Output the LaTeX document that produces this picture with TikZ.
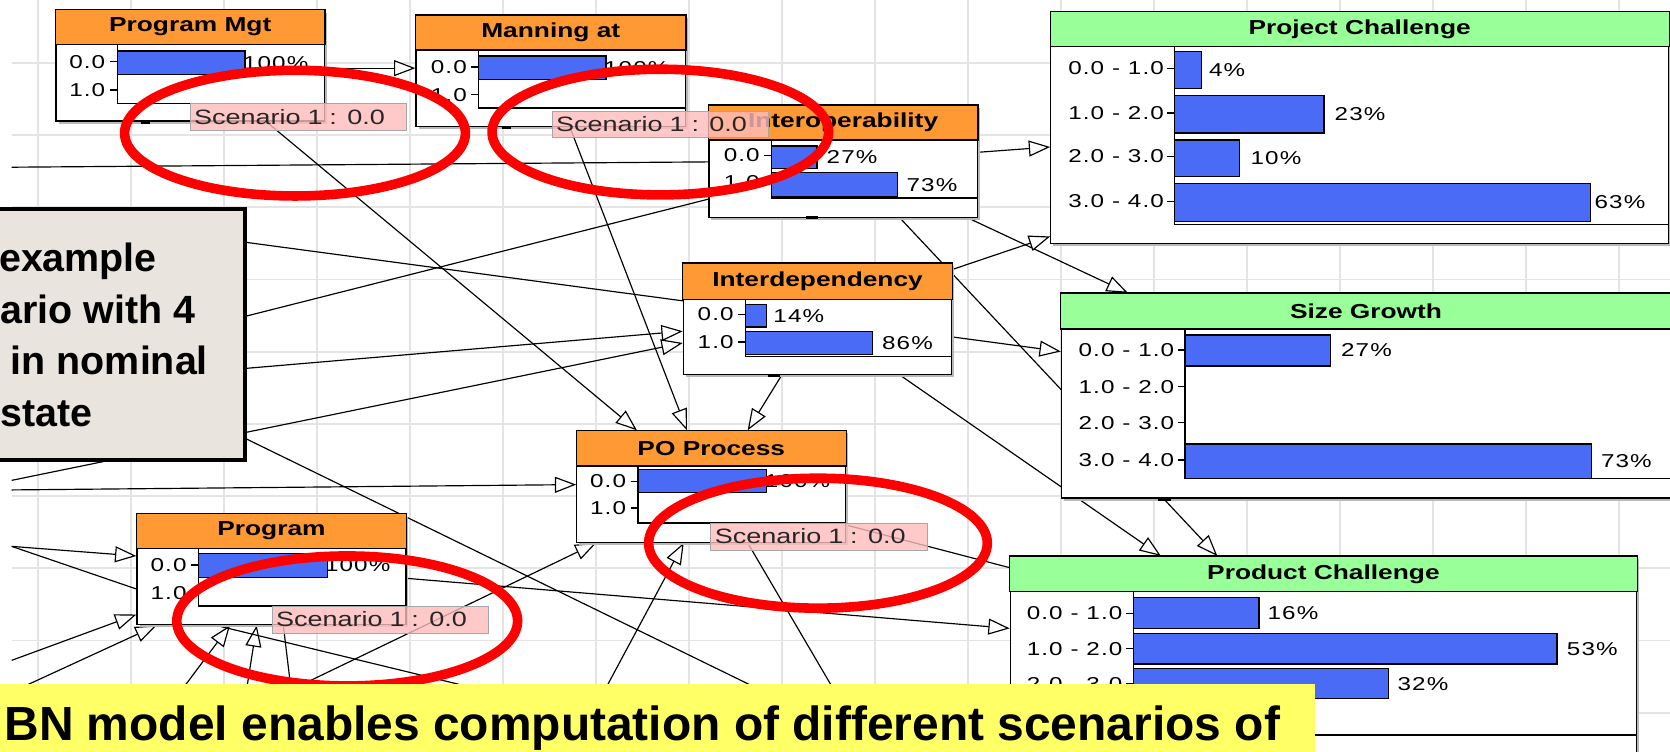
\documentclass[tikz,border=0pt]{standalone}
\usepackage{fontspec}
\setmainfont{Liberation Sans}
\newfontfamily\bnfont[FakeStretch=1.3]{Liberation Sans}
\newfontfamily\bnnum[FakeStretch=1.3,LetterSpace=6]{Liberation Sans}
\usetikzlibrary{arrows.meta}
\pgfdeclarelayer{gridl}
\pgfdeclarelayer{edges}
\pgfsetlayers{gridl,edges,main}
\definecolor{hdrorange}{RGB}{255,153,51}
\definecolor{hdrgreen}{RGB}{153,255,153}
\definecolor{barblue}{RGB}{74,107,245}
\definecolor{gridgrey}{RGB}{228,228,228}
\definecolor{scenpink}{RGB}{255,188,188}
\definecolor{notegrey}{RGB}{234,228,223}
\definecolor{noteyellow}{RGB}{255,255,102}
\tikzset{
  bnbox/.style={draw, fill=white, line width=1.2pt, inner sep=0pt, anchor=north west},
  bntitle/.style={font=\bnfont\bfseries\fontsize{19}{22}\selectfont, inner sep=0pt},
  state/.style={font=\bnnum\fontsize{17.5}{20}\selectfont, inner sep=0pt, anchor=east},
  pct/.style={font=\bnnum\fontsize{17.5}{20}\selectfont, inner sep=0pt, anchor=west},
  bar/.style={draw, fill=barblue, line width=1.2pt},
  frame/.style={line width=1.2pt},
  plain/.style={line width=1.1pt},
  edge/.style={plain, -{Triangle[length=20pt,width=15pt,fill=white]}},
  scen/.style={draw=black!35, fill=scenpink, fill opacity=0.8, text opacity=1,
    font=\bnfont\fontsize{19.5}{22}\selectfont, text=black!85, anchor=north west,
    text width=195pt, align=left, inner xsep=4pt, inner ysep=0pt, minimum height=25pt},
  ring/.style={draw=red, line width=9pt},
  gridline/.style={draw=gridgrey, line width=1.6pt}
}
% name, x, y, width, height, header height, colour, title
\newcommand\bnnode[8]{%
  \fill[black!28] (#2+3,#3+3) rectangle ++(#4,#5);
  \node[bnbox, minimum width=#4pt, minimum height=#5pt] (#1) at (#2,#3) {};
  \draw[fill=#7, line width=1.2pt] (#1.north west) rectangle ([yshift=-#6pt]#1.north east);
  \node[bntitle] at ([yshift=-#6pt/2]#1.north) {#8};
}

\begin{document}
\begin{tikzpicture}[x=1pt,y=-1pt]
\useasboundingbox (0,0) rectangle (1568,706);

% background grid
\begin{pgfonlayer}{gridl}
\fill[white] (0,0) rectangle (1568,706);
\foreach \i in {0,...,17}
  \draw[gridline] ({36+87.3*\i},0) -- ({36+87.3*\i},706);
\foreach \i in {0,...,9}
  \draw[gridline] (11,{59+67.8*\i}) -- (1568,{59+67.8*\i});
\end{pgfonlayer}

% network nodes
\bnnode{pm}{52}{9}{252}{104}{33}{hdrorange}{Program Mgt}
\draw[frame] (110,42) -- (110,97) -- (304,97);
\draw[bar] (110,48) rectangle (230,70);
\node[pct] at (228,59) {100\%};
\foreach \y/\t in {58/0.0,84.5/1.0} {\draw[frame] (103,\y) -- (110,\y); \node[state] at (99,\y) {\t};}
\fill (132,113) rectangle (141,116);

\bnnode{man}{390}{14}{253}{104}{33}{hdrorange}{Manning at}
\draw[frame] (449.5,47) -- (449.5,101.5) -- (643,101.5);
\draw[bar] (449.5,52.5) rectangle (569,74.5);
\node[pct] at (567,63.5) {100\%};
\foreach \y/\t in {63/0.0,89/1.0} {\draw[frame] (442.5,\y) -- (449.5,\y); \node[state] at (438.5,\y) {\t};}
\fill (471,118) rectangle (480,121);

\bnnode{iop}{665}{98.5}{252}{105}{33}{hdrorange}{Interoperability}
\draw[frame] (724.5,131.5) -- (724.5,186) -- (917,186);
\draw[bar] (724.5,137) rectangle (767,158);
\node[pct] at (776,147.5) {27\%};
\draw[bar] (724.5,162) rectangle (843,185);
\node[pct] at (851,173.5) {73\%};
\foreach \y/\t in {146/0.0,171/1.0} {\draw[frame] (717.5,\y) -- (724.5,\y); \node[state] at (713.5,\y) {\t};}
\fill (757,203) rectangle (768,206);

\bnnode{idep}{641}{247}{252}{104}{34}{hdrorange}{Interdependency}
\draw[frame] (700,281) -- (700,335) -- (893,335);
\draw[bar] (700,286) rectangle (720,307);
\node[pct] at (726,296.5) {14\%};
\draw[bar] (700,311) rectangle (819,333);
\node[pct] at (828,322) {86\%};
\foreach \y/\t in {295/0.0,321/1.0} {\draw[frame] (693,\y) -- (700,\y); \node[state] at (689,\y) {\t};}
\fill (721,351) rectangle (732,354);

\bnnode{poproc}{541}{404}{252.5}{104.5}{33.6}{hdrorange}{PO Process}
\draw[frame] (599,437.6) -- (599,491) -- (793.5,491);
\draw[bar] (599,441) rectangle (720,462.5);
\node[pct] at (718,452) {100\%};
\foreach \y/\t in {452/0.0,477/1.0} {\draw[frame] (592,\y) -- (599,\y); \node[state] at (588,\y) {\t};}

\bnnode{prog}{128}{482}{252.5}{104}{33}{hdrorange}{Program}
\draw[frame] (186.3,515) -- (186.3,569) -- (380.5,569);
\draw[bar] (186.3,520) rectangle (307.5,542);
\node[pct] at (305,531) {100\%};
\foreach \y/\t in {530.5/0.0,556.5/1.0} {\draw[frame] (179.3,\y) -- (186.3,\y); \node[state] at (175.3,\y) {\t};}

\bnnode{projch}{986}{11}{580}{217}{33}{hdrgreen}{Project Challenge}
\draw[frame] (1103,44) -- (1103,211) -- (1566,211);
\draw[bar] (1103,48.5) rectangle (1128,83);
\node[pct] at (1135,65.5) {4\%};
\draw[bar] (1103,90) rectangle (1243,125);
\node[pct] at (1253,107.5) {23\%};
\draw[bar] (1103,131.5) rectangle (1164,166);
\node[pct] at (1174,148.5) {10\%};
\draw[bar] (1103,172) rectangle (1493,208);
\node[pct] at (1497,190) {63\%};
\foreach \y/\t in {64/0.0 - 1.0,106/1.0 - 2.0,147/2.0 - 3.0,189/3.0 - 4.0}
  {\draw[frame] (1096,\y) -- (1103,\y); \node[state] at (1093,\y) {\t};}

\bnnode{sizeg}{996}{275}{572}{192}{34}{hdrgreen}{Size Growth}
\draw[frame] (1112.7,309) -- (1112.7,449) -- (1568,449);
\draw[bar] (1112.7,314.6) rectangle (1249,343.6);
\node[pct] at (1259,329) {27\%};
\draw[bar] (1112.7,417) rectangle (1494.6,449);
\node[pct] at (1503,433) {73\%};
\foreach \y/\t in {328.6/0.0 - 1.0,363/1.0 - 2.0,397/2.0 - 3.0,432/3.0 - 4.0}
  {\draw[frame] (1105.7,\y) -- (1112.7,\y); \node[state] at (1102.7,\y) {\t};}
\fill (1087,467) rectangle (1099,470);

\bnnode{prodch}{948}{522}{588}{200}{33.6}{hdrgreen}{Product Challenge}
\draw[frame] (1064,555.6) -- (1064,690) -- (1536,690);
\draw[bar] (1064,561) rectangle (1182,590);
\node[pct] at (1190,575.5) {16\%};
\draw[bar] (1064,594.6) rectangle (1462,623.5);
\node[pct] at (1471,609) {53\%};
\draw[bar] (1064,628) rectangle (1304,655.5);
\node[pct] at (1312,642) {32\%};
\foreach \y/\t in {576/0.0 - 1.0,609/1.0 - 2.0,642/2.0 - 3.0}
  {\draw[frame] (1057,\y) -- (1064,\y); \node[state] at (1054,\y) {\t};}

% links
\begin{pgfonlayer}{edges}
\coordinate (lf1) at (11,157);
\coordinate (lf2) at (100,330);
\coordinate (lf3) at (100,210);
\coordinate (lf4) at (100,357);
\coordinate (lf5) at (11,451);
\coordinate (lf6) at (100,348);
\coordinate (lf7) at (11,460);
\coordinate (lf8) at (11,513);
\coordinate (lf9) at (11,620);
\coordinate (bt1) at (780,680);
\coordinate (bt2) at (-33,670);
\coordinate (bt3) at (154,670);
\coordinate (bt4) at (228,670);
\coordinate (bt5) at (276,670);
\coordinate (bt6) at (544,670);
\coordinate (bt7) at (227,670);
\coordinate (bt8) at (556,670);
\coordinate (bt9) at (796,670);
\draw[edge] (pm.east |- 0,64) -- (man.west |- 0,64);
\draw[plain] (lf1) -- (iop.west |- 0,152);
\draw[plain] (lf2) -- (iop.west |- 0,187);
\draw[edge] (lf3) -- (sizeg.west |- 0,330);
\draw[edge] (lf4) -- (idep.west |- 0,311);
\draw[edge] (lf5) -- (idep.west |- 0,322);
\draw[plain] (lf6) -- (bt1);
\draw[edge] (lf7) -- (poproc.west |- 0,455);
\draw[edge] (lf8) -- (prog.west |- 0,522);
\draw[plain] (lf8) -- (prog.west |- 0,553);
\draw[edge] (lf9) -- (prog.west |- 0,577);
\draw[edge] (bt2) -- (prog.south -| 147,0);
\draw[edge] (bt3) -- (prog.south -| 216,0);
\draw[edge] (bt4) -- (prog.south -| 241,0);
\draw[plain] (prog.south -| 266,0) -- (bt5);
\draw[plain] (prog.south -| 203,0) -- (bt6);
\draw[edge] (bt7) -- (poproc.south -| 560,0);
\draw[edge] (bt8) -- (poproc.south -| 642,0);
\draw[plain] (poproc.south -| 702,0) -- (bt9);
\draw[edge] (prog.east |- 0,543) -- (prodch.west |- 0,590);
\draw[plain] (poproc.east |- 0,493) -- (prodch.west |- 0,533);
\draw[edge] (pm.south -| 250,0) -- (poproc.north -| 598,0);
\draw[edge] (man.south -| 535,0) -- (poproc.north -| 645,0);
\draw[edge] (idep.south -| 734,0) -- (poproc.north -| 702,0);
\draw[edge] (iop.east |- 0,143) -- (projch.west |- 0,138);
\draw[edge] (iop.south -| 909,0) -- (sizeg.north -| 1059,0);
\draw[edge] (iop.south -| 845,0) -- (prodch.north -| 1143,0);
\draw[edge] (idep.east |- 0,253) -- (projch.west |- 0,222);
\draw[edge] (idep.south -| 845,0) -- (prodch.north -| 1090,0);
\end{pgfonlayer}

% scenario flags
\node[scen] (scpm) at (178,97) {Scenario 1 : 0.0};
\node[scen] (scman) at (518,104) {Scenario 1 : 0.0};
\node[scen] (scpo) at (667,491) {Scenario 1 : 0.0};
\node[scen] (scprog) at (255,569) {Scenario 1 : 0.0};

% red rings
\draw[ring] (277,125) ellipse [x radius=160, y radius=59];
\draw[ring] (620,124) ellipse [x radius=158, y radius=59];
\draw[ring] (768,510) ellipse [x radius=159, y radius=61];
\draw[ring] (326,583) ellipse [x radius=160, y radius=61];

% callouts
\draw[fill=notegrey, line width=4pt] (-10,196) rectangle (230,432);
\begin{scope}[font=\bfseries\fontsize{37}{40}\selectfont]
\node[anchor=base west, inner sep=0pt] (nt1) at (-1,255) {example};
\node[anchor=base west, inner sep=0pt] (nt2) at (0,303.6) {ario with 4};
\node[anchor=base west, inner sep=0pt] (nt3) at (10,352) {in nominal};
\node[anchor=base west, inner sep=0pt] (nt4) at (0,400.6) {state};
\end{scope}
\fill[noteyellow] (-1,642) rectangle (1235,707);
\node[anchor=base west, inner sep=0pt, font=\bfseries\fontsize{45}{48}\selectfont] (bnmsg) at (4,695)
  {BN model enables computation of different scenarios of};
\end{tikzpicture}
\end{document}
